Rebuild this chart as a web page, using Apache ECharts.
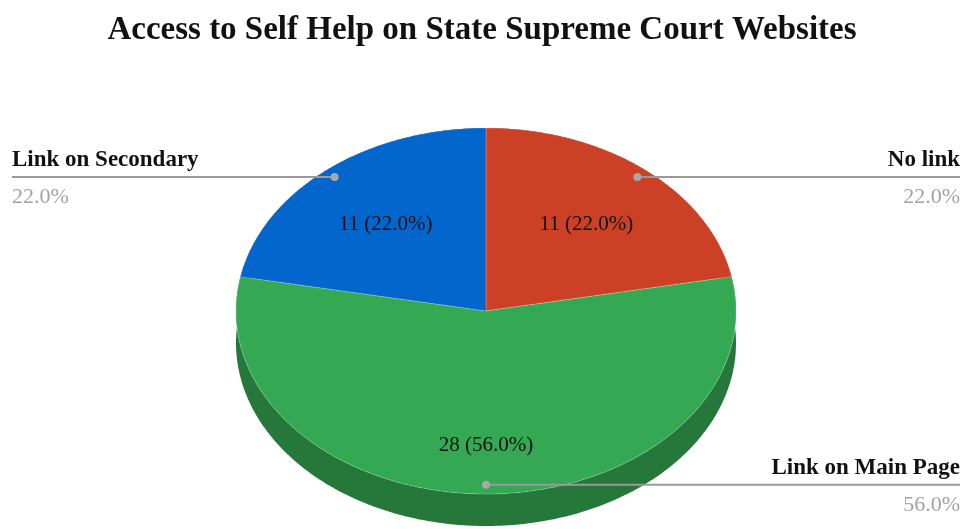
<!DOCTYPE html>
<html>
<head>
<meta charset="utf-8">
<script src="https://cdn.jsdelivr.net/npm/echarts@6/dist/echarts.min.js"></script>
<style>
  html, body { margin: 0; padding: 0; background: #fff; }
  #chart { width: 964px; height: 529px; }
</style>
</head>
<body>
<div id="chart"></div>
<script>
// Slice data, in clockwise order starting at 12 o'clock
const categories = ['No link', 'Link on Main Page', 'Link on Secondary'];
const counts = [11, 28, 11];

// Appearance
const topColors = ['#CC4125', '#34A853', '#0366CC'];
const sideColors = ['#8E2D1A', '#26783A', '#02478F'];
const FONT = '"Liberation Serif", "DejaVu Serif", serif';

// Tilted pie geometry (ellipse for the top face plus a visible rim)
const CX = 486, CY = 311, RX = 250, RY = 183, DEPTH = 32;

const total = counts.reduce((s, v) => s + v, 0);
const angles = [];
(function () {
  let acc = 0;
  counts.forEach(v => {
    const a0 = acc / total * Math.PI * 2;
    acc += v;
    const a1 = acc / total * Math.PI * 2;
    angles.push({ a0, a1, mid: (a0 + a1) / 2 });
  });
})();

function pt(theta, f, dy) {
  return [CX + RX * f * Math.sin(theta), CY - RY * f * Math.cos(theta) + (dy || 0)];
}

function arc(a0, a1, dy) {
  const n = Math.max(2, Math.ceil((a1 - a0) / 0.01));
  const pts = [];
  for (let i = 0; i <= n; i++) pts.push(pt(a0 + (a1 - a0) * i / n, 1, dy));
  return pts;
}

function pct(v) { return (v / total * 100).toFixed(1) + '%'; }

const seriesData = counts.map((v, i) => ({ name: categories[i], value: [i, v] }));

const chart = echarts.init(document.getElementById('chart'), null, { renderer: 'canvas' });

chart.setOption({
  backgroundColor: '#ffffff',
  animation: false,
  title: {
    text: 'Access to Self Help on State Supreme Court Websites',
    left: 'center',
    top: 9,
    textStyle: { fontFamily: FONT, fontWeight: 'bold', fontSize: 33, color: '#111111' }
  },
  series: [
    {
      // rim of the pie (only the front part stays visible)
      type: 'custom',
      coordinateSystem: 'none',
      z: 1,
      data: seriesData,
      renderItem: function (params, api) {
        const a = angles[api.value(0)];
        const pts = arc(a.a0, a.a1, 0).concat(arc(a.a0, a.a1, DEPTH).reverse());
        return {
          type: 'polygon',
          shape: { points: pts },
          style: { fill: sideColors[params.dataIndex], stroke: null }
        };
      }
    },
    {
      // top face slices
      type: 'custom',
      coordinateSystem: 'none',
      z: 2,
      data: seriesData,
      renderItem: function (params, api) {
        const a = angles[api.value(0)];
        const pts = [[CX, CY]].concat(arc(a.a0, a.a1, 0));
        return {
          type: 'polygon',
          shape: { points: pts },
          style: { fill: topColors[params.dataIndex], stroke: 'rgba(255,255,255,0.35)', lineWidth: 0.6 }
        };
      }
    },
    {
      // inside labels, leader lines and outside labels
      type: 'custom',
      coordinateSystem: 'none',
      z: 3,
      data: seriesData,
      renderItem: function (params, api) {
        const i = api.value(0);
        const v = api.value(1);
        const a = angles[i];
        const inner = pt(a.mid, 0.63, DEPTH * 0.6 * (1 - Math.cos(a.mid)) / 2);
        const dot = pt(a.mid, 0.95, 0);
        const right = Math.sin(a.mid) >= -1e-9;
        const endX = right ? 960 : 12;
        const align = right ? 'right' : 'left';
        return {
          type: 'group',
          children: [
            {
              type: 'text',
              x: inner[0], y: inner[1],
              style: {
                text: v + ' (' + pct(v) + ')',
                fill: '#111111',
                font: '21px ' + FONT,
                align: 'center', verticalAlign: 'middle',
                textAlign: 'center', textVerticalAlign: 'middle'
              }
            },
            {
              type: 'line',
              shape: { x1: dot[0], y1: dot[1], x2: endX, y2: dot[1] },
              style: { stroke: '#9a9a9a', lineWidth: 2 }
            },
            {
              type: 'circle',
              shape: { cx: dot[0], cy: dot[1], r: 4 },
              style: { fill: '#a8a8a8' }
            },
            {
              type: 'text',
              x: endX, y: dot[1] - 5,
              style: {
                text: categories[i],
                fill: '#111111',
                font: 'bold 23px ' + FONT,
                align: align, verticalAlign: 'bottom',
                textAlign: align, textVerticalAlign: 'bottom'
              }
            },
            {
              type: 'text',
              x: endX, y: dot[1] + 9,
              style: {
                text: pct(v),
                fill: '#a3a3a3',
                font: '22px ' + FONT,
                align: align, verticalAlign: 'top',
                textAlign: align, textVerticalAlign: 'top'
              }
            }
          ]
        };
      }
    }
  ]
});
</script>
</body>
</html>
